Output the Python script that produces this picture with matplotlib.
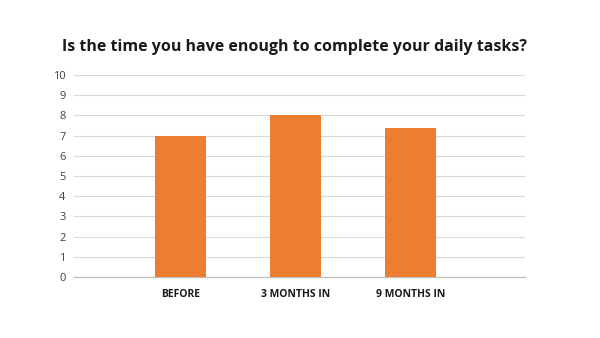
import matplotlib
matplotlib.use("Agg")
import matplotlib.pyplot as plt

categories = ["BEFORE", "3 MONTHS IN", "9 MONTHS IN"]
values = [7.0, 8.0, 7.4]
yticks = list(range(0, 11))

plt.rcParams['font.family'] = ['Open Sans', 'DejaVu Sans']
plt.rcParams['font.stretch'] = 'normal'

fig = plt.figure(figsize=(6, 3.38), dpi=100)
ax = fig.add_axes([74/600, (338-277)/338, (525-74)/600, (277-75)/338])

x = list(range(len(categories)))
ax.bar(x, values, width=0.44, color="#ED7D31", zorder=3)

ax.set_ylim(0, 10)
ax.set_yticks(yticks)
ax.set_yticklabels([str(t) for t in yticks], fontsize=8, color="#404040")
ax.set_xlim(-0.926, 2.996)
ax.set_xticks(x)
ax.set_xticklabels(categories, fontsize=7.5, fontweight='bold', fontstretch='normal', color="#1a1a1a")

ax.grid(axis='y', color="#d9d9d9", linewidth=0.8, zorder=0)
for s in ['top', 'right', 'left']:
    ax.spines[s].set_visible(False)
ax.spines['bottom'].set_color("#bfbfbf")
ax.spines['bottom'].set_linewidth(0.9)
ax.tick_params(axis='both', length=0)
ax.tick_params(axis='y', pad=6)
ax.tick_params(axis='x', pad=8.5)

fig.text(295/600, 1 - 47/338, "Is the time you have enough to complete your daily tasks?",
         ha='center', va='center', fontsize=11.5, fontweight='bold', fontstretch='normal',
         color="#1a1a1a")

fig.savefig("out.png", dpi=100, facecolor="white")
